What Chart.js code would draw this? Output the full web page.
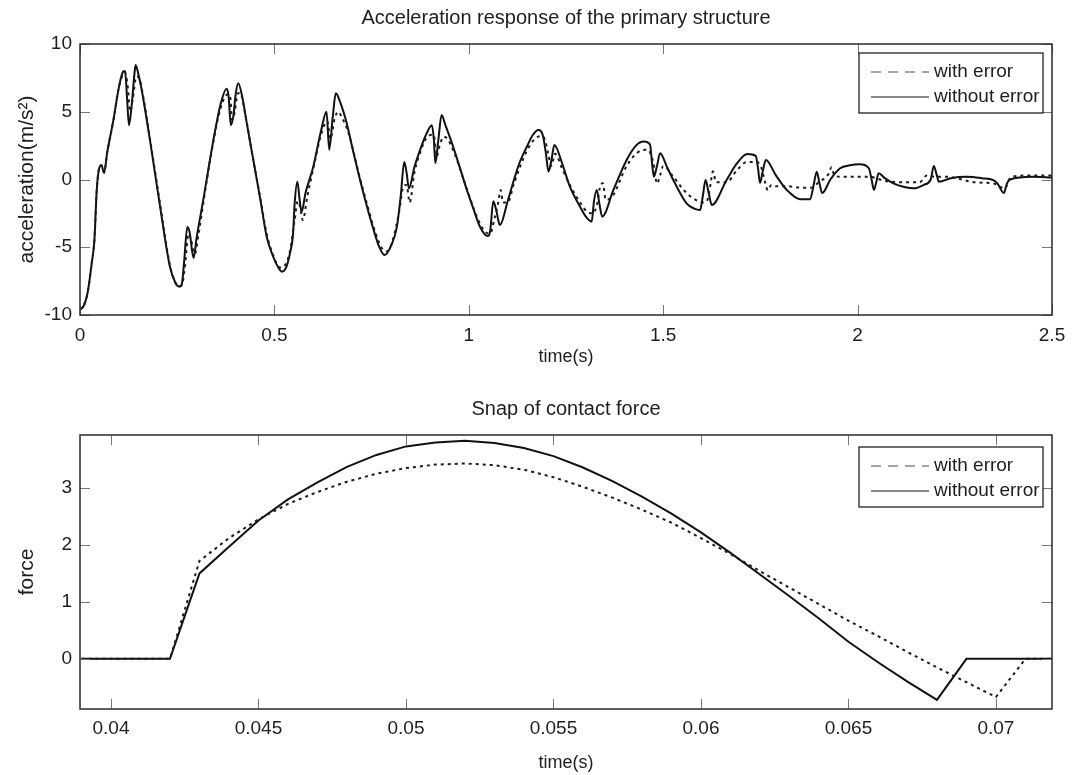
<!DOCTYPE html>
<html>
<head>
<meta charset="utf-8">
<script src="https://cdn.jsdelivr.net/npm/chart.js@4/dist/chart.umd.min.js"></script>
<style>
  html, body { margin: 0; padding: 0; background: #fff; }
  #wrap { position: relative; width: 1072px; height: 775px; }
  canvas { position: absolute; left: 0; }
  #c1 { top: 0; }
  #c2 { top: 390px; }
</style>
</head>
<body>
<div id="wrap">
  <canvas id="c1" width="1072" height="390"></canvas>
  <canvas id="c2" width="1072" height="385"></canvas>
</div>
<script>
// ---------- Data: acceleration response ----------
const seriesLabels = ["with error", "without error"];

const timeWithout = [0.000,0.010,0.020,0.030,0.037,0.043,0.050,0.055,0.062,0.070,0.086,0.100,0.111,0.116,0.121,0.126,0.133,0.140,0.143,0.150,0.160,0.180,0.206,0.231,0.245,0.255,0.262,0.268,0.276,0.282,0.292,0.300,0.317,0.343,0.362,0.377,0.382,0.388,0.395,0.400,0.407,0.418,0.429,0.446,0.464,0.480,0.497,0.510,0.519,0.530,0.540,0.548,0.552,0.559,0.565,0.570,0.580,0.600,0.620,0.634,0.641,0.650,0.658,0.668,0.686,0.700,0.720,0.740,0.755,0.770,0.783,0.800,0.815,0.825,0.834,0.840,0.846,0.860,0.875,0.890,0.905,0.910,0.914,0.922,0.930,0.940,0.960,0.980,0.995,1.010,1.029,1.049,1.055,1.063,1.070,1.080,1.100,1.116,1.130,1.149,1.165,1.179,1.190,1.198,1.205,1.213,1.220,1.240,1.260,1.286,1.300,1.316,1.322,1.329,1.336,1.343,1.372,1.406,1.430,1.449,1.466,1.471,1.476,1.484,1.492,1.510,1.526,1.560,1.580,1.595,1.602,1.609,1.617,1.625,1.663,1.690,1.716,1.738,1.744,1.749,1.756,1.764,1.790,1.818,1.852,1.878,1.887,1.895,1.902,1.909,1.930,1.955,1.980,2.006,2.029,2.036,2.042,2.048,2.054,2.070,2.092,2.120,2.145,2.170,2.188,2.196,2.203,2.209,2.240,2.280,2.320,2.349,2.360,2.376,2.384,2.392,2.450,2.500];
const accWithout = [-9.6,-9.3,-8.3,-6.2,-4.5,-0.8,0.9,1.05,0.5,2.0,4.4,6.8,7.96,8.0,6.0,4.0,5.5,7.8,8.45,7.8,6.4,2.9,-2.0,-6.4,-7.6,-7.9,-7.7,-6.0,-3.5,-3.9,-5.8,-4.3,-1.5,2.9,5.6,6.7,6.2,4.0,4.8,6.2,7.1,6.0,4.15,1.4,-1.5,-4.2,-5.7,-6.5,-6.8,-6.5,-5.45,-4.0,-1.8,-0.16,-1.5,-2.4,-1.0,0.95,3.6,5.0,2.2,4.6,6.36,5.8,4.15,2.4,0.0,-2.2,-3.7,-5.0,-5.57,-4.9,-3.5,-1.2,1.3,0.5,-0.65,0.9,2.2,3.3,4.0,3.0,1.2,3.0,4.76,4.0,2.4,0.6,-0.77,-2.0,-3.5,-4.17,-3.8,-1.6,-2.2,-3.36,-1.6,-0.04,1.2,2.4,3.3,3.65,3.3,2.0,0.58,1.5,2.55,1.2,-0.53,-2.0,-2.7,-3.1,-1.6,-0.77,-1.8,-2.74,-0.77,1.44,2.5,2.8,2.6,1.3,0.2,1.0,1.93,0.9,-0.04,-1.76,-2.15,-2.25,-1.2,-0.04,-1.0,-1.88,-0.04,1.2,1.88,1.75,0.8,-0.24,0.6,1.44,0.3,-0.77,-1.45,-1.46,-0.4,0.58,-0.3,-1.0,0.0,0.83,1.05,1.12,0.83,0.0,-0.77,-0.2,0.46,0.1,-0.28,-0.55,-0.65,-0.4,0.0,1.0,0.4,-0.16,0.1,0.2,0.1,-0.04,-0.3,-1.0,-0.3,0.0,0.2,0.15];

const timeWith = [0.000,0.010,0.020,0.030,0.037,0.043,0.050,0.055,0.062,0.070,0.086,0.100,0.111,0.116,0.123,0.129,0.136,0.145,0.152,0.162,0.180,0.206,0.231,0.245,0.255,0.262,0.270,0.279,0.285,0.295,0.305,0.320,0.343,0.362,0.380,0.386,0.391,0.398,0.405,0.412,0.425,0.446,0.464,0.480,0.497,0.515,0.525,0.540,0.552,0.560,0.566,0.573,0.585,0.600,0.620,0.636,0.644,0.655,0.664,0.675,0.690,0.720,0.740,0.755,0.775,0.790,0.805,0.820,0.832,0.840,0.848,0.860,0.875,0.895,0.910,0.917,0.925,0.935,0.945,0.965,0.995,1.020,1.040,1.055,1.065,1.075,1.082,1.088,1.100,1.116,1.149,1.170,1.185,1.195,1.205,1.212,1.222,1.240,1.260,1.286,1.305,1.320,1.330,1.339,1.345,1.352,1.370,1.406,1.440,1.460,1.475,1.484,1.492,1.500,1.526,1.560,1.590,1.605,1.615,1.622,1.628,1.636,1.663,1.690,1.716,1.740,1.752,1.762,1.769,1.778,1.790,1.820,1.852,1.880,1.900,1.925,1.933,1.940,1.960,2.030,2.070,2.120,2.160,2.178,2.200,2.230,2.300,2.350,2.378,2.395,2.450,2.500];
const accWith = [-9.6,-9.3,-8.3,-6.2,-4.5,-0.8,0.9,1.05,0.5,2.0,4.4,6.8,7.8,7.9,6.8,5.0,6.0,7.6,7.5,6.2,3.0,-1.8,-6.3,-7.6,-7.9,-7.8,-6.4,-4.0,-4.4,-5.5,-4.0,-1.2,2.8,5.3,6.3,6.2,4.4,5.0,6.3,6.4,4.8,1.4,-1.4,-4.0,-5.6,-6.5,-6.4,-5.3,-3.0,-1.6,-2.0,-3.0,-1.2,0.8,3.3,4.3,3.0,4.5,5.0,4.5,3.5,0.1,-2.0,-3.5,-5.0,-5.3,-4.4,-2.5,-0.5,-0.4,-1.7,0.5,2.0,3.2,3.3,1.7,2.5,3.16,3.0,1.8,-0.7,-2.7,-3.8,-4.0,-3.0,-1.8,-0.77,-1.7,-1.7,-0.3,2.1,3.0,3.2,3.0,1.8,1.0,1.9,0.8,-0.4,-1.7,-2.4,-2.5,-1.8,-0.4,-0.28,-1.5,-1.2,1.0,2.1,2.2,1.2,-0.3,0.3,1.0,0.2,-1.0,-1.6,-1.7,-1.4,-0.3,0.6,-0.2,-0.2,0.7,1.3,1.3,0.9,-0.2,-0.8,-0.4,-0.5,-0.5,-0.6,-0.6,-0.2,0.4,0.9,0.3,0.2,0.2,-0.1,-0.2,-0.2,0.3,0.2,0.2,-0.2,-0.3,-0.65,0.2,0.3,0.3];

const accXTicks = [0, 0.5, 1, 1.5, 2, 2.5];
const accYTicks = [-10, -5, 0, 5, 10];

// ---------- Data: contact force ----------
const timeForce = [0.039,0.040,0.041,0.042,0.043,0.044,0.045,0.046,0.047,0.048,0.049,0.050,0.051,0.052,0.053,0.054,0.055,0.056,0.057,0.058,0.059,0.060,0.061,0.062,0.063,0.064,0.065,0.066,0.067,0.068,0.069,0.070,0.071,0.072];
const forceWithout = [0,0,0,0,1.50,1.97,2.43,2.80,3.10,3.37,3.58,3.73,3.80,3.83,3.79,3.70,3.56,3.36,3.12,2.85,2.55,2.22,1.86,1.48,1.10,0.71,0.30,-0.06,-0.40,-0.72,0,0,0,0];
const forceWith = [0,0,0,0,1.72,2.12,2.45,2.72,2.93,3.11,3.25,3.35,3.41,3.43,3.40,3.32,3.19,3.02,2.83,2.62,2.39,2.12,1.84,1.54,1.25,0.96,0.67,0.40,0.12,-0.15,-0.41,-0.67,0,0];
const forceXTicks = [0.04, 0.045, 0.05, 0.055, 0.06, 0.065, 0.07];
const forceYTicks = [0, 1, 2, 3];

// ---------- helpers ----------
const FONT = "'Liberation Sans', Arial, Helvetica, sans-serif";
const TXT = '#1e1e1e';
Chart.defaults.font.family = FONT;
Chart.defaults.color = TXT;

function pairs(xs, ys) { return xs.map((x, i) => ({ x: x, y: ys[i] })); }
function fmt(v) { return String(+(+v).toFixed(4)); }

const framePlugin = {
  id: 'frameTicks',
  afterDatasetsDraw(chart) {
    const { ctx, chartArea: a, scales } = chart;
    ctx.save();
    ctx.strokeStyle = '#777';
    ctx.lineWidth = 1;
    ctx.beginPath();
    scales.x.ticks.forEach(t => {
      const px = Math.round(scales.x.getPixelForValue(t.value)) + 0.5;
      ctx.moveTo(px, a.bottom); ctx.lineTo(px, a.bottom - 10);
      ctx.moveTo(px, a.top); ctx.lineTo(px, a.top + 10);
    });
    scales.y.ticks.forEach(t => {
      const py = Math.round(scales.y.getPixelForValue(t.value)) + 0.5;
      ctx.moveTo(a.left, py); ctx.lineTo(a.left + 10, py);
      ctx.moveTo(a.right, py); ctx.lineTo(a.right - 10, py);
    });
    ctx.stroke();
    ctx.strokeStyle = '#2a2a2a';
    ctx.lineWidth = 1.5;
    ctx.strokeRect(a.left, a.top, a.right - a.left, a.bottom - a.top);

    // legend box (inside, top-right)
    const opts = chart.options.plugins.innerLegend;
    const bw = 184, bh = 60;
    const bx = a.right - 9 - bw, by = a.top + opts.offsetTop;
    ctx.fillStyle = '#fff';
    ctx.fillRect(bx, by, bw, bh);
    ctx.strokeStyle = '#222';
    ctx.lineWidth = 1.3;
    ctx.strokeRect(bx, by, bw, bh);
    const rows = [by + 19, by + 44];
    ctx.beginPath();
    ctx.setLineDash([10, 7]);
    ctx.strokeStyle = '#888';
    ctx.lineWidth = 1.3;
    ctx.moveTo(bx + 12, rows[0]); ctx.lineTo(bx + 70, rows[0]);
    ctx.stroke();
    ctx.setLineDash([]);
    ctx.beginPath();
    ctx.strokeStyle = '#111';
    ctx.lineWidth = 1.1;
    ctx.moveTo(bx + 12, rows[1]); ctx.lineTo(bx + 70, rows[1]);
    ctx.stroke();
    ctx.fillStyle = TXT;
    ctx.font = '19px ' + FONT;
    ctx.textBaseline = 'middle';
    ctx.textAlign = 'left';
    const labels = chart.data.datasets.map(d => d.label);
    ctx.fillText(labels[0], bx + 75, rows[0]);
    ctx.fillText(labels[1], bx + 75, rows[1]);
    ctx.restore();
  }
};

function makeChart(id, cfg) {
  const lineCommon = { pointRadius: 0, fill: false };
  return new Chart(document.getElementById(id), {
    type: 'line',
    data: {
      datasets: [
        Object.assign({
          label: seriesLabels[0],
          data: cfg.dataWith,
          borderColor: '#1c1c1c',
          borderWidth: 2,
          borderDash: [3, 4],
          tension: cfg.tension,
          cubicInterpolationMode: cfg.mono ? 'monotone' : 'default'
        }, lineCommon),
        Object.assign({
          label: seriesLabels[1],
          data: cfg.dataWithout,
          borderColor: '#111',
          borderWidth: 2,
          tension: cfg.tension,
          cubicInterpolationMode: cfg.mono ? 'monotone' : 'default'
        }, lineCommon)
      ]
    },
    options: {
      responsive: false,
      animation: false,
      events: [],
      layout: { padding: { left: 0, right: 20, top: 0, bottom: 0 } },
      plugins: {
        legend: { display: false },
        tooltip: { enabled: false },
        innerLegend: { offsetTop: cfg.legendTop },
        title: {
          display: true,
          fullSize: false,
          text: cfg.title,
          color: TXT,
          font: { size: 20, weight: 'normal', family: FONT },
          padding: { top: cfg.titleTop, bottom: cfg.titleBottom }
        }
      },
      scales: {
        x: {
          type: 'linear',
          min: cfg.xMin, max: cfg.xMax,
          afterFit: s => { s.height = cfg.xAxisH; s.paddingLeft = 0; s.paddingRight = 0; },
          afterBuildTicks: s => { s.ticks = cfg.xTicks.map(v => ({ value: v })); },
          grid: { display: false, drawTicks: false },
          border: { display: false },
          ticks: { font: { size: 19 }, color: TXT, padding: cfg.xTickPad, maxRotation: 0, autoSkip: false, callback: v => fmt(v) },
          title: { display: true, text: 'time(s)', color: TXT, font: { size: 18 }, padding: { top: 0, bottom: cfg.xTitleBottom } }
        },
        y: {
          type: 'linear',
          min: cfg.yMin, max: cfg.yMax,
          afterFit: s => { s.width = 80; s.paddingTop = 0; s.paddingBottom = 0; },
          afterBuildTicks: s => { s.ticks = cfg.yTicks.map(v => ({ value: v })); },
          grid: { display: false, drawTicks: false },
          border: { display: false },
          ticks: { font: { size: 19 }, color: TXT, padding: 8, autoSkip: false, callback: v => fmt(v) },
          title: { display: true, text: cfg.yTitle, color: TXT, font: { size: 21 }, padding: { top: 15, bottom: 0 } }
        }
      }
    },
    plugins: [framePlugin]
  });
}

makeChart('c1', {
  title: 'Acceleration response of the primary structure',
  dataWith: pairs(timeWith, accWith),
  dataWithout: pairs(timeWithout, accWithout),
  tension: 0.4, mono: true,
  xMin: 0, xMax: 2.5, yMin: -10, yMax: 10,
  xTicks: accXTicks, yTicks: accYTicks,
  xAxisH: 75, xTickPad: 9.6, xTitleBottom: 22.2,
  titleTop: 6, titleBottom: 14,
  yTitle: 'acceleration(m/s²)',
  legendTop: 9
});

makeChart('c2', {
  title: 'Snap of contact force',
  dataWith: pairs(timeForce, forceWith),
  dataWithout: pairs(timeForce, forceWithout),
  tension: 0, mono: false,
  xMin: 0.03895, xMax: 0.0719, yMin: -0.88, yMax: 3.93,
  xTicks: forceXTicks, yTicks: forceYTicks,
  xAxisH: 66, xTickPad: 8.1, xTitleBottom: 1.2,
  titleTop: 7, titleBottom: 14,
  yTitle: 'force',
  legendTop: 12
});
</script>
</body>
</html>
